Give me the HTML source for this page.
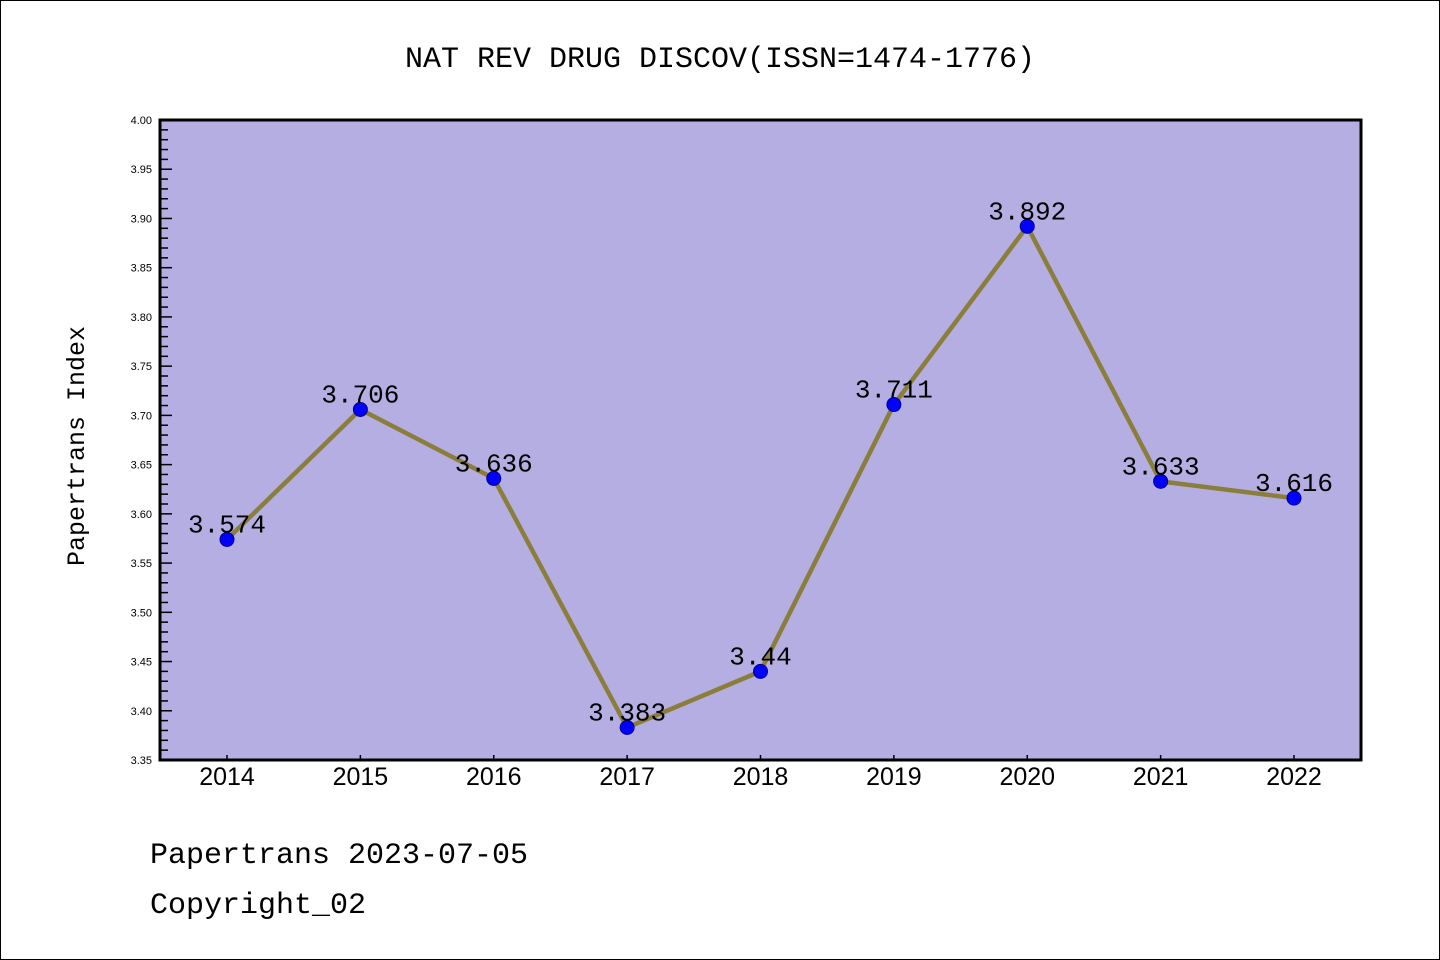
<!DOCTYPE html>
<html><head><meta charset="utf-8"><style>
body{margin:0;background:#fff}
svg{display:block}
.mono{font-family:"Liberation Mono","WenQuanYi Zen Hei",monospace}
.sans{font-family:"Liberation Sans","DejaVu Sans",sans-serif}
</style></head><body>
<svg id="chart" width="1440" height="960" xmlns="http://www.w3.org/2000/svg">
<rect x="0.5" y="0.5" width="1439" height="959" fill="#fff" stroke="#000"/>
<text x="720" y="67" text-anchor="middle" font-size="30" class="mono">NAT REV DRUG DISCOV(ISSN=1474-1776)</text>
<rect x="160" y="120" width="1201" height="640" fill="#b5aee2"/>
<g id="yaxis"></g><g id="xaxis"></g>
<g id="series"></g>
<rect x="160" y="120" width="1201" height="640" fill="none" stroke="#000" stroke-width="3"/>
<text transform="translate(84,446) rotate(-90)" text-anchor="middle" font-size="25" class="mono">Papertrans Index</text>
<text x="150" y="863" font-size="30" class="mono">Papertrans 2023-07-05</text>
<text x="150" y="913" font-size="30" class="mono">Copyright_02</text>
</svg>
<script>
const categories=["2014","2015","2016","2017","2018","2019","2020","2021","2022"];
const values=[3.574,3.706,3.636,3.383,3.44,3.711,3.892,3.633,3.616];
const valueLabels=["3.574","3.706","3.636","3.383","3.44","3.711","3.892","3.633","3.616"];
const yTicks=["3.35","3.40","3.45","3.50","3.55","3.60","3.65","3.70","3.75","3.80","3.85","3.90","3.95","4.00"];
const NS="http://www.w3.org/2000/svg";
const yMin=3.35,yMax=4.0,Y_TOP=120,Y_BOT=760,X_LEFT=160;
function ys(v){return Y_BOT-(v-yMin)/(yMax-yMin)*(Y_BOT-Y_TOP);}
function xs(i){return 227+i*(1294-227)/(categories.length-1);}
function svgEl(t,a,p){const e=document.createElementNS(NS,t);for(const k in a)e.setAttribute(k,a[k]);p.appendChild(e);return e;}
const ya=document.getElementById('yaxis');
for(let k=0;k<=65;k++){const v=yMin+k*0.01;const y=ys(v);const major=k%5===0;
 const l=svgEl('line',{x1:X_LEFT,x2:X_LEFT+(major?12:8),y1:y,y2:y,stroke:'#000','stroke-width':1.5},ya);
 
 }
yTicks.forEach(s=>{const t=svgEl('text',{x:152,y:ys(parseFloat(s))+4,'text-anchor':'end','font-size':11,class:'sans'},ya);t.textContent=s;
 
 });
const xa=document.getElementById('xaxis');
categories.forEach((c,i)=>{const l=svgEl('line',{x1:xs(i),x2:xs(i),y1:Y_BOT,y2:Y_BOT-5,stroke:'#000','stroke-width':1.5},xa);
 
 
 const t=svgEl('text',{x:xs(i),y:785,'text-anchor':'middle','font-size':25,class:'sans'},xa);t.textContent=c;
 
 });
const g=document.getElementById('series');
const pl=svgEl('polyline',{points:values.map((v,i)=>xs(i)+','+ys(v)).join(' '),fill:'none',stroke:'#8b7d3a','stroke-width':4.5,'stroke-linejoin':'round'},g);


values.forEach((v,i)=>{const c=svgEl('circle',{cx:xs(i),cy:ys(v),r:7,fill:'#0000ff',stroke:'#00008b','stroke-width':1},g);
 
 });
values.forEach((v,i)=>{const t=svgEl('text',{x:xs(i),y:ys(v)-7,'text-anchor':'middle','font-size':26,class:'mono'},g);t.textContent=valueLabels[i];
 
 });
</script>
</body></html>
